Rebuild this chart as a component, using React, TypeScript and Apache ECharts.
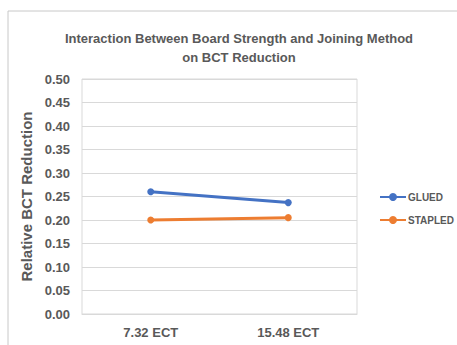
import React, { useEffect, useRef } from "react";
import * as echarts from "echarts";

const categories = ["7.32 ECT", "15.48 ECT"];
const gluedValues = [0.26, 0.237];
const stapledValues = [0.2, 0.205];
const seriesNames = ["GLUED", "STAPLED"];

const TEXT = "#595959";
const FONT = "'Liberation Sans', Arial, sans-serif";

export default function App() {
  const ref = useRef<HTMLDivElement>(null);
  useEffect(() => {
    if (!ref.current) return;
    const chart = echarts.init(ref.current, null, { renderer: "svg" });
    chart.setOption({
      animation: false,
      backgroundColor: "#ffffff",
      textStyle: { fontFamily: FONT },
      graphic: [
        {
          type: "rect",
          shape: { x: 8, y: 11, width: 470, height: 345 },
          style: { fill: "none", stroke: "#c8c8c8", lineWidth: 1 },
          silent: true,
        },
      ],
      title: {
        text: "Interaction Between Board Strength and Joining Method\non BCT Reduction",
        left: 234,
        top: 24,
        textAlign: "center",
        textStyle: {
          color: TEXT,
          fontSize: 13,
          fontWeight: "bold",
          fontFamily: FONT,
          lineHeight: 19,
        },
      },
      legend: {
        orient: "vertical",
        left: 374,
        top: 187,
        itemGap: 13,
        itemWidth: 26,
        itemHeight: 10,
        data: seriesNames,
        textStyle: { color: TEXT, fontSize: 10, fontWeight: "bold", fontFamily: FONT, padding: [0, 0, 0, -3] },
      },
      grid: {
        left: 82,
        top: 79,
        width: 275,
        height: 235,
        show: true,
        borderColor: "#d9d9d9",
        borderWidth: 1,
      },
      xAxis: {
        type: "category",
        data: categories,
        boundaryGap: true,
        axisLine: { lineStyle: { color: "#d9d9d9" } },
        axisTick: { show: false },
        axisLabel: { color: TEXT, fontSize: 13, fontWeight: "bold", margin: 12, fontFamily: FONT },
      },
      yAxis: {
        type: "value",
        min: 0,
        max: 0.5,
        interval: 0.05,
        name: "Relative BCT Reduction",
        nameLocation: "middle",
        nameGap: 39,
        nameTextStyle: { color: TEXT, fontSize: 15, fontWeight: "bold", fontFamily: FONT },
        axisLine: { show: false },
        axisTick: { show: false },
        splitLine: { lineStyle: { color: "#d9d9d9", width: 1 } },
        axisLabel: {
          color: TEXT,
          fontSize: 13,
          fontWeight: "bold",
          margin: 12,
          fontFamily: FONT,
          formatter: (v: number) => v.toFixed(2),
        },
      },
      series: [
        {
          name: seriesNames[0],
          type: "line",
          data: gluedValues,
          symbol: "circle",
          symbolSize: 7,
          lineStyle: { color: "#4472C4", width: 3 },
          itemStyle: { color: "#4472C4" },
        },
        {
          name: seriesNames[1],
          type: "line",
          data: stapledValues,
          symbol: "circle",
          symbolSize: 7,
          lineStyle: { color: "#ED7D31", width: 3 },
          itemStyle: { color: "#ED7D31" },
        },
      ],
    });
    return () => chart.dispose();
  }, []);
  return (
    <div
      ref={ref}
      style={{ position: "fixed", left: 0, top: 0, width: 457, height: 345 }}
    />
  );
}
